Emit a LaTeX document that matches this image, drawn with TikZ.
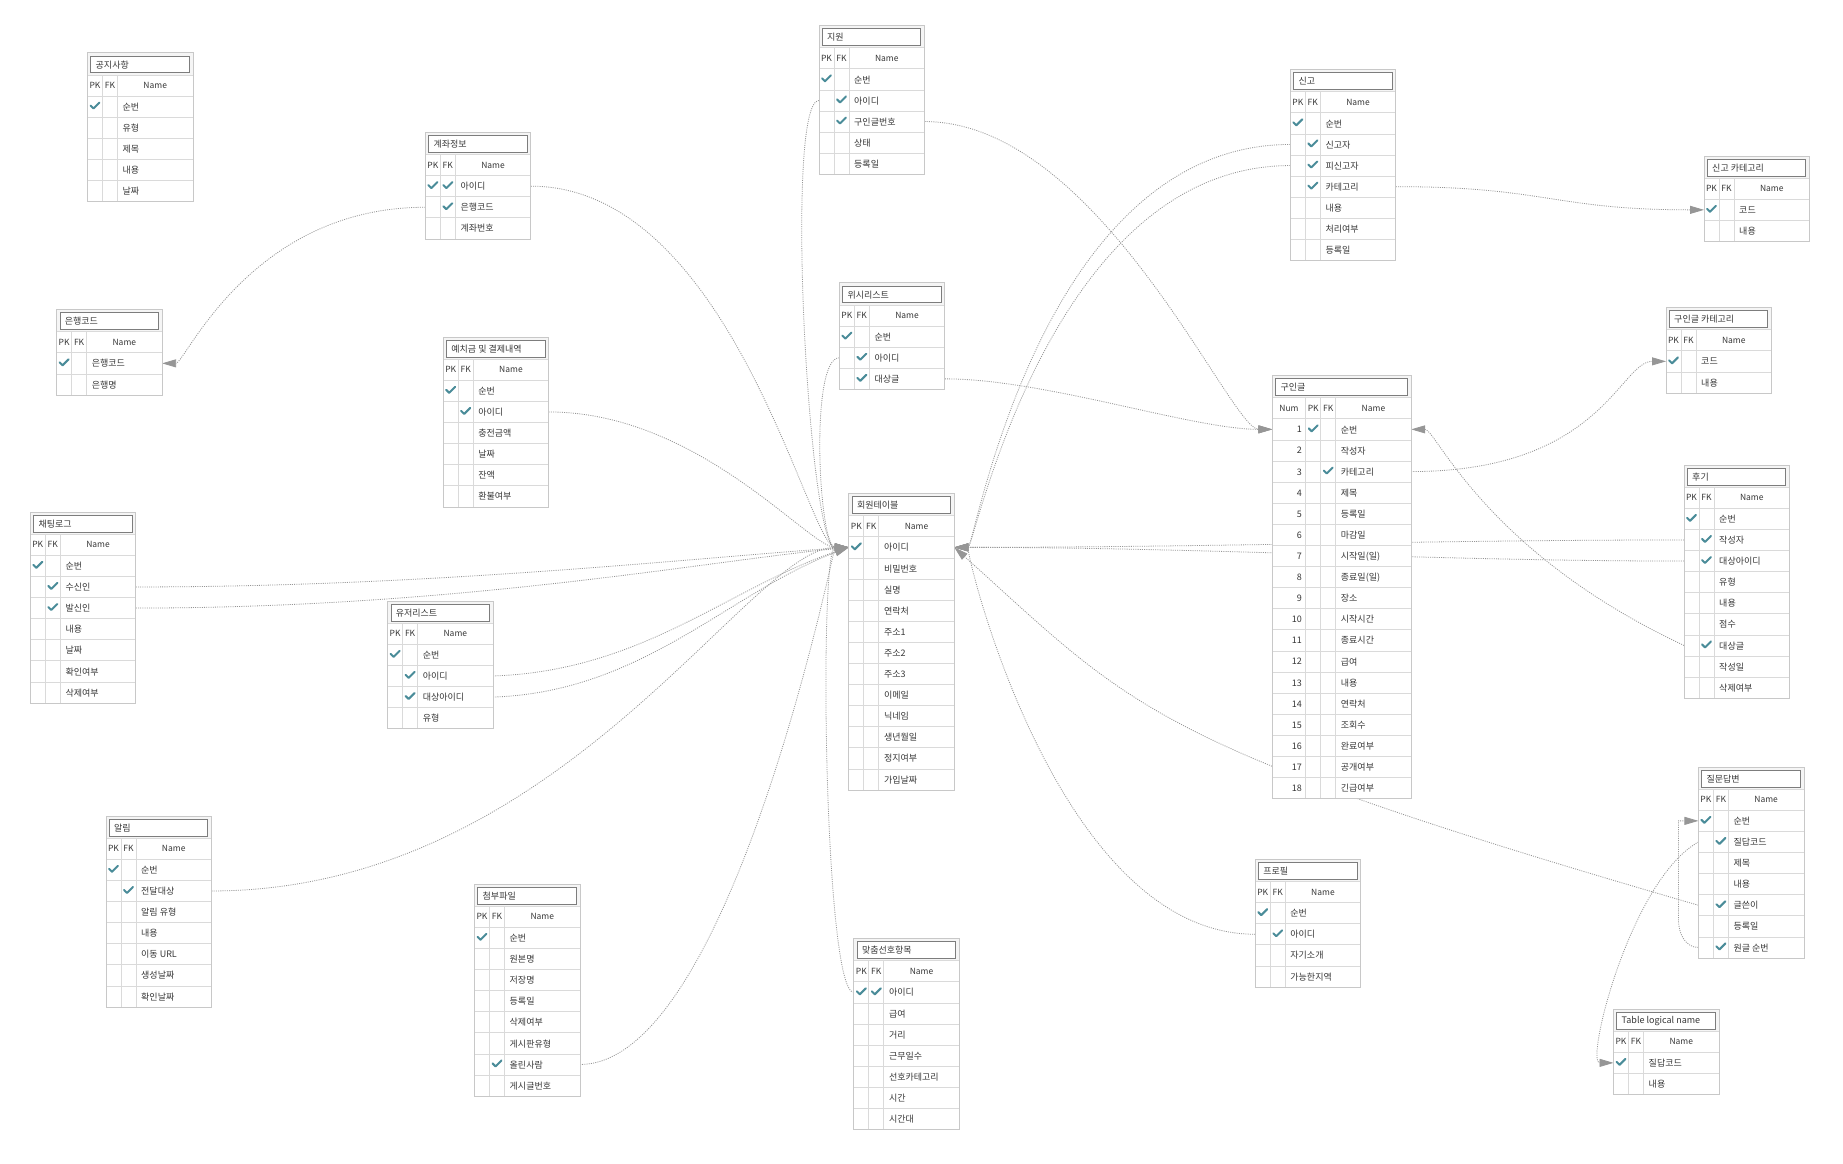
\documentclass[tikz,border=0pt]{standalone}
\usepackage{fontspec}
\setmainfont{Noto Sans CJK KR}
\usetikzlibrary{arrows.meta}

\definecolor{tickc}{RGB}{74,140,153}
\definecolor{gridc}{RGB}{218,218,218}
\definecolor{framec}{RGB}{200,200,200}
\definecolor{titlec}{RGB}{125,125,125}
\definecolor{relc}{RGB}{150,150,150}
\definecolor{headbg}{RGB}{245,245,245}
\definecolor{txt}{RGB}{55,55,55}

\pgfdeclarelayer{paper}
\pgfdeclarelayer{links}
\pgfsetlayers{paper,links,main}

\tikzset{
  tablebody/.style={draw=framec, fill=white, line width=0.8pt, inner sep=0pt, outer sep=0pt},
  gridline/.style={draw=gridc, line width=0.8pt},
  titlebox/.style={draw=titlec, line width=0.8pt, fill=white},
  celltext/.style={inner sep=0pt, text=txt, font=\fontsize{9}{10}\selectfont},
  headtext/.style={inner sep=0pt, text=txt, font=\fontsize{8.5}{10}\selectfont},
  rowslot/.style={inner sep=0pt, outer sep=0pt, draw=none, minimum height=21.1pt},
  rel/.style={draw=relc, line width=0.8pt, dash pattern=on 1pt off 1.2pt,
    -{Triangle[length=14pt,width=8pt,fill=relc]}},
  checkmark/.pic={\draw[tickc, line width=2pt, line cap=round, line join=round]
    (-4.5,-0.5) -- (-1.5,2.5) -- (4.5,-3.5);}
}

% #1 id, #2 left, #3 top, #4 width of the Num column (0 = none),
% #5 title, #6 number of rows, #7 rows as name/pk/fk
\newcommand\ertable[7]{%
  \begin{scope}[shift={(#2,#3)}]
    \pgfmathsetmacro\erN{#4}
    \pgfmathsetmacro\erW{#4+105.5}
    \pgfmathsetmacro\erH{43.3+#6*21.1}
    \node[tablebody, anchor=north west, minimum width=\erW pt, minimum height=\erH pt] (#1) at (0,0) {};
    \fill[headbg] (0.4,0.4) rectangle (\erW-0.4,22.3);
    \draw[titlebox] (3.3,3.3) rectangle (\erW-3.7,20);
    \node[celltext, anchor=west] at (8,12) {#5};
    \draw[gridline] (0,22.3) -- (\erW,22.3);
    \draw[gridline] (0,43.3) -- (\erW,43.3);
    \ifdim\erN pt>0pt
      \node[headtext] at (\erN/2,32.8) {Num};
      \draw[gridline] (\erN,22.3) -- (\erN,\erH);
    \fi
    \draw[gridline] (\erN+15,22.3) -- (\erN+15,\erH);
    \draw[gridline] (\erN+30,22.3) -- (\erN+30,\erH);
    \node[headtext] at (\erN+7.5,32.8) {PK};
    \node[headtext] at (\erN+22.5,32.8) {FK};
    \node[headtext] at (\erN+67.75,32.8) {Name};
    \foreach \nm/\pk/\fk [count=\i] in {#7} {
      \pgfmathsetmacro\ry{43.3+(\i-1)*21.1}
      \draw[gridline] (0,\ry) -- (\erW,\ry);
      \node[rowslot, minimum width=\erW pt, anchor=north west] (#1-\i) at (0,\ry) {};
      \node[celltext, anchor=west] at (\erN+35,\ry+10.8) {\nm};
      \ifnum\pk=1 \pic at (\erN+7.5,\ry+10) {checkmark}; \fi
      \ifnum\fk=1 \pic at (\erN+22.5,\ry+10) {checkmark}; \fi
      \ifdim\erN pt>0pt \node[celltext, anchor=east] at (\erN-3.7,\ry+10.8) {\i}; \fi
    }
    \node[tablebody, fill=none, anchor=north west, minimum width=\erW pt, minimum height=\erH pt] at (0,0) {};
  \end{scope}}

\begin{document}
\begin{tikzpicture}[x=1pt,y=-1pt]
\begin{pgfonlayer}{paper}
  \fill[white] (0,0) rectangle (1843,1163);
\end{pgfonlayer}
\useasboundingbox (0,0) rectangle (1843,1163);

% tables
\ertable{notice}{87.5}{52.7}{0}{공지사항}{5}{순번/1/0, 유형/0/0, 제목/0/0, 내용/0/0, 날짜/0/0}
\ertable{acct}{425.3}{132.3}{0}{계좌정보}{3}{아이디/1/1, 은행코드/0/1, 계좌번호/0/0}
\ertable{bank}{56.6}{309.5}{0}{은행코드}{2}{은행코드/1/0, 은행명/0/0}
\ertable{pay}{443.2}{337}{0}{예치금 및 결제내역}{6}{순번/1/0, 아이디/0/1, 충전금액/0/0, 날짜/0/0, 잔액/0/0, 환불여부/0/0}
\ertable{chat}{30.3}{512}{0}{채팅로그}{7}{순번/1/0, 수신인/0/1, 발신인/0/1, 내용/0/0, 날짜/0/0, 확인여부/0/0, 삭제여부/0/0}
\ertable{ulist}{387.6}{601}{0}{유저리스트}{4}{순번/1/0, 아이디/0/1, 대상아이디/0/1, 유형/0/0}
\ertable{alarm}{106}{816}{0}{알림}{7}{순번/1/0, 전달대상/0/1, 알림 유형/0/0, 내용/0/0, 이동 URL/0/0, 생성날짜/0/0, 확인날짜/0/0}
\ertable{file}{474.5}{884}{0}{첨부파일}{8}{순번/1/0, 원본명/0/0, 저장명/0/0, 등록일/0/0, 삭제여부/0/0, 게시판유형/0/0, 올린사람/0/1, 게시글번호/0/0}
\ertable{apply}{819}{25.5}{0}{지원}{5}{순번/1/0, 아이디/0/1, 구인글번호/0/1, 상태/0/0, 등록일/0/0}
\ertable{wish}{839.3}{282.8}{0}{위시리스트}{3}{순번/1/0, 아이디/0/1, 대상글/0/1}
\ertable{member}{848.8}{493.5}{0}{회원테이블}{12}{아이디/1/0, 비밀번호/0/0, 실명/0/0, 연락처/0/0, 주소1/0/0, 주소2/0/0, 주소3/0/0, 이메일/0/0, 닉네임/0/0, 생년월일/0/0, 정지여부/0/0, 가입날짜/0/0}
\ertable{pref}{853.8}{938.5}{0}{맞춤선호항목}{7}{아이디/1/1, 급여/0/0, 거리/0/0, 근무일수/0/0, 선호카테고리/0/0, 시간/0/0, 시간대/0/0}
\ertable{report}{1290.3}{69.5}{0}{신고}{7}{순번/1/0, 신고자/0/1, 피신고자/0/1, 카테고리/0/1, 내용/0/0, 처리여부/0/0, 등록일/0/0}
\ertable{rcat}{1704}{156}{0}{신고 카테고리}{2}{코드/1/0, 내용/0/0}
\ertable{job}{1272.3}{375.5}{33.4}{구인글}{18}{순번/1/0, 작성자/0/0, 카테고리/0/1, 제목/0/0, 등록일/0/0, 마감일/0/0, 시작일(일)/0/0, 종료일(일)/0/0, 장소/0/0, 시작시간/0/0, 종료시간/0/0, 급여/0/0, 내용/0/0, 연락처/0/0, 조회수/0/0, 완료여부/0/0, 공개여부/0/0, 긴급여부/0/0}
\ertable{jcat}{1666}{307.5}{0}{구인글 카테고리}{2}{코드/1/0, 내용/0/0}
\ertable{review}{1684}{465}{0}{후기}{9}{순번/1/0, 작성자/0/1, 대상아이디/0/1, 유형/0/0, 내용/0/0, 점수/0/0, 대상글/0/1, 작성일/0/0, 삭제여부/0/0}
\ertable{profile}{1255.2}{859.3}{0}{프로필}{4}{순번/1/0, 아이디/0/1, 자기소개/0/0, 가능한지역/0/0}
\ertable{qna}{1698.4}{767}{0}{질문답변}{7}{순번/1/0, 질답코드/0/1, 제목/0/0, 내용/0/0, 글쓴이/0/1, 등록일/0/0, 원글 순번/0/1}
\ertable{qcode}{1613.5}{1009}{0}{Table logical name}{2}{질답코드/1/0, 내용/0/0}

% relationships (drawn beneath the tables)
\begin{pgfonlayer}{links}
  % into 회원테이블, left side
  \draw[rel] (acct-1.east) .. controls +(200,0) and +(-40,0) .. (member-1.west);
  \draw[rel] (apply-2.west) .. controls +(-35,0) and +(-40,0) .. (member-1.west);
  \draw[rel] (wish-2.west) .. controls +(-30,0) and +(-30,0) .. (member-1.west);
  \draw[rel] (pay-2.east) .. controls +(150,0) and +(-40,0) .. (member-1.west);
  \draw[rel] (chat-2.east) .. controls +(300,0) and +(-150,10) .. (member-1.west);
  \draw[rel] (chat-3.east) .. controls +(320,0) and +(-150,15) .. (member-1.west);
  \draw[rel] (ulist-2.east) .. controls +(150,-5) and +(-120,40) .. (member-1.west);
  \draw[rel] (ulist-3.east) .. controls +(150,-5) and +(-120,45) .. (member-1.west);
  \draw[rel] (alarm-2.east) .. controls +(350,0) and +(-100,0) .. (member-1.west);
  \draw[rel] (file-7.east) .. controls +(150,0) and +(-15,0) .. (member-1.west);
  \draw[rel] (pref-1.west) .. controls +(-30,0) and +(-30,0) .. (member-1.west);
  % into 회원테이블, right side
  \draw[rel] (report-2.west) .. controls +(-250,0) and +(20,0) .. (member-1.east);
  \draw[rel] (report-3.west) .. controls +(-240,0) and +(20,0) .. (member-1.east);
  \draw[rel] (review-2.west) .. controls +(-250,0) and +(250,0) .. (member-1.east);
  \draw[rel] (review-3.west) .. controls +(-250,0) and +(250,0) .. (member-1.east);
  \draw[rel] (profile-2.west) .. controls +(-200,0) and +(10,0) .. (member-1.east);
  \draw[rel] (qna-5.west) .. controls +(-550,-159.5) and +(180,162) .. (member-1.east);
  % into 구인글
  \draw[rel] (apply-3.east) .. controls +(175,0) and +(-42,0) .. (job-1.west);
  \draw[rel] (wish-3.east) .. controls +(100,0) and +(-80,0) .. (job-1.west);
  \draw[rel] (review-7.west) .. controls +(-200,-94) and +(25,0) .. (job-1.east);
  % code tables
  \draw[rel] (job-3.east) .. controls +(190,0) and +(-46,0) .. (jcat-1.west);
  \draw[rel] (report-4.east) .. controls +(150,0) and +(-150,0) .. (rcat-1.west);
  \draw[rel] (acct-2.west) .. controls +(-175,0) and +(23,0) .. (bank-1.east);
  \draw[rel] (qna-2.west) .. controls +(-68,38) and +(-28.5,0) .. (qcode-1.west);
  % 질문답변 self reference
  \draw[rel] (qna-7.west) to[out=180,in=-90] ++(-20,-28) |- (qna-1.west);
\end{pgfonlayer}
\end{tikzpicture}
\end{document}
